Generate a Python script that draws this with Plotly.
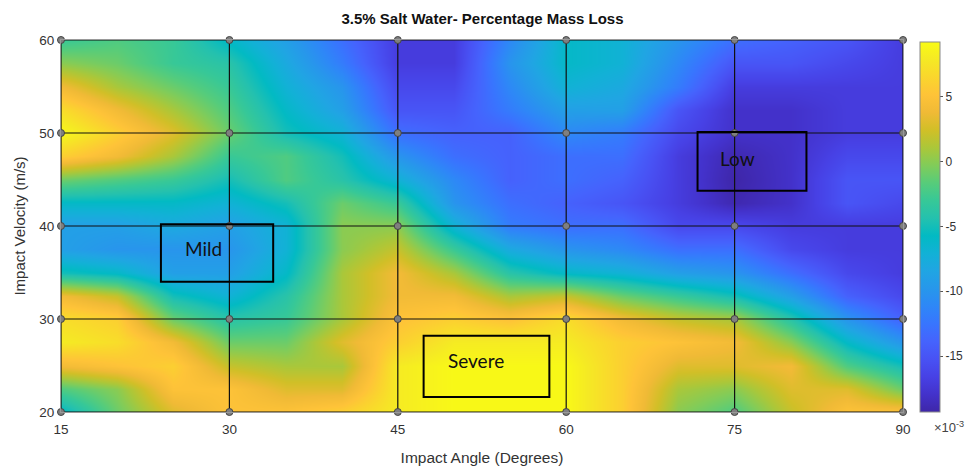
import plotly.graph_objects as go

# Sample positions (x: impact angle, y: impact velocity)
angles = [15, 20, 25, 30, 35, 40, 45, 50, 55, 60, 65, 70, 75, 80, 85, 90]
velocities = [20, 22.5, 25, 27.5, 30, 32.5, 35, 37.5, 40, 42.5, 45, 47.5, 50, 52.5, 55, 57.5, 60]

# Percentage mass loss (x10^-3), one row per velocity (bottom to top)
mass_loss = [
    [-6, -1, 3, 5, 5, 6, 8, 9, 9, 9, 6, 0, -2, 2, 5, 5],
    [-2, 0, 5, 5, 3, 3, 8, 9, 9, 9, 6, 1, 0, 3, 3, -1],
    [4, 5, 6, 2, 1, 1, 8, 9, 9, 9, 6, 3, 3, 4, -2, -5],
    [8, 7, 4, -1, -1, 3, 6, 8, 8, 8, 6, 5, 4, 0, -6, -10],
    [7, 6, -1, -4, -3, 1, 5, 6, 5, 7, 4, 2, 1, -4, -10, -14],
    [4, 2, -5, -7, -4, 1, 4, 4, 1, 2, -1, -3, -5, -9, -14, -16],
    [-5, -6, -9, -9, -6, 1, 4, 1, -4, -6, -7, -9, -10, -13, -16, -17],
    [-9, -10, -10, -10, -7, 0, 2, -3, -8, -10, -11, -13, -13, -16, -17, -17],
    [-9, -9, -8, -9, -7, 0, 0, -7, -12, -13, -13, -16, -16, -17, -17, -17],
    [-6, -6, -6, -7, -5, -1, -3, -10, -13, -14, -15, -17, -19, -18, -15, -16],
    [-1, -2, -3, -5, -2, -4, -7, -11, -14, -13, -14, -17, -19.3, -18, -15, -15],
    [6, 4, 1, -3, -2, -5, -10, -13, -14, -13, -13, -17, -19, -18, -16, -16],
    [9, 6, 3, -1, -5, -7, -13, -14, -14, -11, -12, -16, -18, -18, -17, -17],
    [7, 4, 1, -2, -6, -9, -15, -15, -12, -9, -9, -15, -18, -18, -17, -17],
    [4, 1, -1, -3, -7, -10, -16, -16, -11, -7, -8, -12, -17, -17, -17, -17],
    [0, -1, -3, -4, -8, -12, -17, -17, -10, -6, -7, -11, -15, -15, -16, -17],
    [-3, -2, -3, -6, -9, -13, -17, -17, -11, -6, -7, -10, -13, -14, -15, -17],
]

# Measurement mesh / tick labels
mesh_angles = [15, 30, 45, 60, 75, 90]
mesh_velocities = [20, 30, 40, 50, 60]
cbar_ticks = [5, 0, -5, -10, -15]
cbar_labels = ["5", "0", "-5", "-10", "-15"]

# Severity regions: (label, x0, x1, y0, y1, text x, text y)
regions = [
    ("Mild", 23.9, 33.9, 34.0, 40.2, 27.7, 37.6),
    ("Low", 71.7, 81.4, 43.8, 50.1, 75.3, 47.3),
    ("Severe", 47.3, 58.5, 21.6, 28.2, 52.0, 25.5),
]

parula_rgb = [
    (0.2422, 0.1504, 0.6603), (0.2647, 0.1978, 0.7952), (0.2783, 0.2559, 0.8991),
    (0.2810, 0.3228, 0.9579), (0.2699, 0.3892, 0.9906), (0.2206, 0.4603, 0.9973),
    (0.1786, 0.5289, 0.9682), (0.1540, 0.5902, 0.9218), (0.1248, 0.6459, 0.8883),
    (0.0689, 0.6948, 0.8394), (0.0067, 0.7312, 0.7660), (0.1408, 0.7584, 0.6842),
    (0.2161, 0.7843, 0.5923), (0.3406, 0.8008, 0.4789), (0.5044, 0.7993, 0.3480),
    (0.6720, 0.7793, 0.2227), (0.8203, 0.7498, 0.1535), (0.9393, 0.7288, 0.2100),
    (0.9970, 0.7659, 0.2199), (0.9786, 0.8386, 0.1766), (0.9597, 0.9135, 0.1423),
    (0.9769, 0.9839, 0.0805),
]
n = len(parula_rgb)
parula = [[i / (n - 1), "rgb(%d,%d,%d)" % tuple(round(c * 255) for c in rgb)]
          for i, rgb in enumerate(parula_rgb)]

fig = go.Figure()
fig.add_trace(go.Heatmap(
    x=angles, y=velocities, z=mass_loss,
    colorscale=parula, zmin=-19.3, zmax=9.2, zsmooth="best",
    colorbar=dict(
        x=1.0205, xanchor="left", xref="paper", xpad=0,
        y=0.0, yanchor="bottom", lenmode="pixels", len=370, ypad=0,
        thickness=20, thicknessmode="pixels",
        outlinecolor="#8a8a8a", outlinewidth=1,
        tickvals=cbar_ticks, ticktext=cbar_labels,
        ticks="outside", ticklen=3, tickcolor="#555",
        tickfont=dict(family="Liberation Sans, Arial", size=12, color="#333"),
    ),
    hoverinfo="skip",
))

# mesh lines
lx, ly = [], []
for v in mesh_velocities:
    lx += [mesh_angles[0], mesh_angles[-1], None]
    ly += [v, v, None]
for a in mesh_angles:
    lx += [a, a, None]
    ly += [mesh_velocities[0], mesh_velocities[-1], None]
fig.add_trace(go.Scatter(x=lx, y=ly, mode="lines",
                         line=dict(color="#111", width=1.2),
                         hoverinfo="skip", showlegend=False))
nx = [a for v in mesh_velocities for a in mesh_angles]
ny = [v for v in mesh_velocities for a in mesh_angles]
fig.add_trace(go.Scatter(x=nx, y=ny, mode="markers",
                         marker=dict(size=7, color="#7f7f7f",
                                     line=dict(color="#444", width=1)),
                         hoverinfo="skip", showlegend=False, cliponaxis=False))

for label, x0, x1, y0, y1, tx, ty in regions:
    fig.add_shape(type="rect", x0=x0, x1=x1, y0=y0, y1=y1,
                  line=dict(color="black", width=2), fillcolor="rgba(0,0,0,0)")
    fig.add_annotation(x=tx, y=ty, text=label, showarrow=False,
                       font=dict(family="Lato, Open Sans", size=19, color="#111"))

fig.add_annotation(x=1.0345, y=-0.040, xref="paper", yref="paper",
                   text="×10<sup>-3</sup>", showarrow=False, xanchor="left",
                   yanchor="middle",
                   font=dict(family="Liberation Sans, Arial", size=13, color="#444"))

axis_font = dict(family="Liberation Sans, Arial", size=13.5, color="#333")
# The page body adds an 8px offset, so the figure is sized to fit the window.
fig.update_layout(
    width=969, height=459,
    margin=dict(l=53, r=74, t=32, b=55, autoexpand=False),
    paper_bgcolor="white", plot_bgcolor="white",
    showlegend=False,
    title=dict(text="<b>3.5% Salt Water- Percentage Mass Loss</b>",
               x=0.4897, xanchor="center", y=0.977, yanchor="middle",
               font=dict(family="Liberation Sans, Arial", size=15, color="#111")),
    xaxis=dict(range=[15, 90], tickvals=mesh_angles, showgrid=False, zeroline=False,
               tickfont=axis_font, ticks="", showline=True, linecolor="#999",
               mirror=True, ticklabelstandoff=5,
               title=dict(text="Impact Angle (Degrees)", standoff=15,
                          font=dict(family="Liberation Sans, Arial", size=15.5, color="#333"))),
    yaxis=dict(range=[20, 60], tickvals=mesh_velocities, showgrid=False, zeroline=False,
               tickfont=axis_font, ticks="", showline=True, linecolor="#999",
               mirror=True, ticklabelstandoff=3,
               title=dict(text="Impact Velocity (m/s)", standoff=10,
                          font=dict(family="Liberation Sans, Arial", size=15, color="#333"))),
)

fig.write_html("out.html")
